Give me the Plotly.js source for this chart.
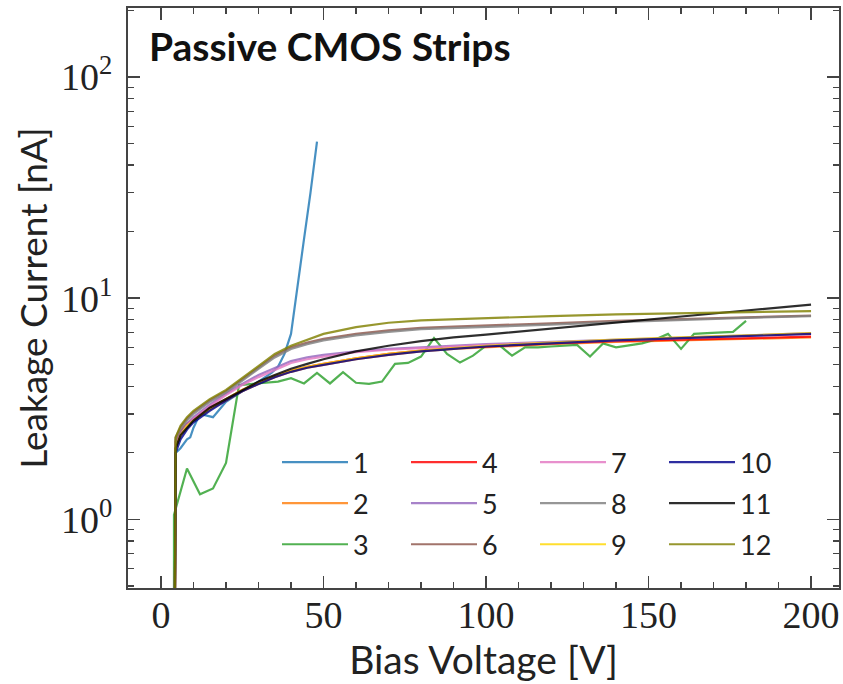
<!DOCTYPE html>
<html><head><meta charset="utf-8">
<script src="https://cdn.plot.ly/plotly-3.0.1.min.js"></script>
<style>body{margin:0;background:#fff}#chart{width:843px;height:684px}</style>
</head><body><div id="chart"></div><script>
// Shared bias-voltage grid for the smooth strips
const xCommon = [4, 4.5, 6, 8, 10, 15, 20, 25, 30, 35, 40, 45, 50, 60, 70, 80, 90, 100, 120, 140, 160, 180, 200];

// Strip 1 (breakdown before 50 V)
const x1 = [4, 4.5, 6, 8, 9, 10, 12, 14, 16, 20, 25, 30, 34, 36, 38, 40, 42, 44, 46, 48];
const y1 = [0.05, 2.0, 2.1, 2.3, 2.35, 2.6, 3.0, 2.95, 2.9, 3.4, 3.8, 4.2, 4.6, 4.9, 5.6, 6.9, 11, 18.5, 30, 51];

// Strip 3 (noisy, stops at 180 V)
const x3 = [4, 4, 8, 12, 16, 20, 24, 28, 32, 36, 40, 44, 48, 52, 56, 60, 64, 68, 72, 76, 80, 84, 88, 92, 96, 100, 104, 108, 112, 116, 120, 124, 128, 132, 136, 140, 144, 148, 152, 156, 160, 164, 168, 172, 176, 180];
const y3 = [0.05, 1.05, 1.7, 1.3, 1.38, 1.8, 4.05, 4.1, 4.15, 4.2, 4.35, 4.12, 4.6, 4.12, 4.63, 4.15, 4.1, 4.2, 5.05, 5.1, 5.45, 6.6, 5.6, 5.12, 5.5, 6.1, 6.15, 5.5, 6.0, 6.0, 6.05, 6.1, 6.15, 5.45, 6.25, 6.0, 6.1, 6.25, 6.5, 6.9, 5.9, 6.9, 6.95, 7.0, 7.05, 7.9];

const y2  = [0.05, 2.1, 2.4, 2.65, 2.8, 3.15, 3.45, 3.8, 4.1, 4.4, 4.65, 4.85, 5.0, 5.3, 5.55, 5.75, 5.9, 6.0, 6.2, 6.35, 6.45, 6.55, 6.65];
const y4  = [0.05, 2.25, 2.5, 2.7, 2.85, 3.2, 3.5, 3.85, 4.15, 4.45, 4.7, 4.9, 5.05, 5.35, 5.6, 5.8, 5.95, 6.05, 6.25, 6.4, 6.5, 6.6, 6.7];
const y5  = [0.05, 2.15, 2.45, 2.7, 2.9, 3.3, 3.7, 4.1, 4.5, 4.85, 5.2, 5.4, 5.55, 5.75, 5.9, 6.0, 6.1, 6.2, 6.35, 6.5, 6.65, 6.8, 6.95];
const y6  = [0.05, 2.35, 2.6, 2.85, 3.05, 3.45, 3.8, 4.3, 4.85, 5.5, 6.0, 6.3, 6.55, 6.9, 7.15, 7.35, 7.45, 7.55, 7.7, 7.9, 8.05, 8.2, 8.35];
const y7  = [0.05, 2.15, 2.4, 2.65, 2.85, 3.25, 3.65, 4.05, 4.4, 4.75, 5.1, 5.3, 5.45, 5.7, 5.85, 5.95, 6.05, 6.15, 6.3, 6.45, 6.6, 6.75, 6.9];
const y8  = [0.05, 2.3, 2.55, 2.8, 3.0, 3.4, 3.75, 4.25, 4.8, 5.4, 5.9, 6.2, 6.45, 6.8, 7.05, 7.25, 7.35, 7.45, 7.6, 7.8, 8.0, 8.15, 8.3];
const y9  = [0.05, 2.1, 2.4, 2.65, 2.8, 3.15, 3.5, 3.85, 4.15, 4.45, 4.7, 4.9, 5.05, 5.35, 5.6, 5.8, 5.95, 6.1, 6.3, 6.5, 6.65, 6.8, 6.95];
const y10 = [0.05, 2.0, 2.3, 2.55, 2.75, 3.1, 3.45, 3.8, 4.1, 4.4, 4.65, 4.85, 5.0, 5.3, 5.55, 5.75, 5.9, 6.05, 6.25, 6.45, 6.6, 6.75, 6.9];
const y11 = [0.05, 2.1, 2.4, 2.6, 2.8, 3.2, 3.5, 3.85, 4.2, 4.5, 4.8, 5.05, 5.3, 5.75, 6.1, 6.4, 6.65, 6.85, 7.3, 7.8, 8.3, 8.8, 9.35];
const y12 = [0.05, 2.35, 2.65, 2.9, 3.1, 3.5, 3.85, 4.35, 4.95, 5.6, 6.1, 6.5, 6.9, 7.4, 7.75, 7.95, 8.05, 8.15, 8.3, 8.45, 8.55, 8.65, 8.75];

const names = ['1','2','3','4','5','6','7','8','9','10','11','12'];
const colors = ['#1f77b4','#ff7f0e','#2ca02c','#ff0000','#9467bd','#8c564b','#e377c2','#7f7f7f','#ffd700','#00008b','#000000','#808000'];

const xs = [x1, xCommon, x3, xCommon, xCommon, xCommon, xCommon, xCommon, xCommon, xCommon, xCommon, xCommon];
const ys = [y1, y2, y3, y4, y5, y6, y7, y8, y9, y10, y11, y12];

const legendIds = ['legend','legend2','legend3','legend4'];
const traces = names.map((n, i) => ({
  type: 'scatter', mode: 'lines', x: xs[i], y: ys[i], name: n,
  line: {color: colors[i], width: 2.2}, opacity: 0.82,
  legend: legendIds[Math.floor(i / 3)], legendgroup: 'g' + n
}));

const L = 128, R = 4, T = 8, B = 96;
const W = 843 - L - R, H = 684 - T - B;
const px2x = p => (p - L) / W;
const py2y = p => (684 - B - p) / H;

const legendFont = {family: 'Lato, "Noto Sans", sans-serif', size: 27, color: '#222'};
function mkLegend(col) {
  return {
    x: px2x(277 + col * 129), y: py2y(438), xanchor: 'left', yanchor: 'top',
    bgcolor: 'rgba(0,0,0,0)', borderwidth: 0, font: legendFont,
    tracegroupgap: 3, itemwidth: 66, orientation: 'v'
  };
}

const axisLine = '#444';
const titleFont = {family: 'Lato, "Noto Sans", sans-serif', size: 39, color: '#222'};
const layout = {
  width: 843, height: 684,
  margin: {l: L, r: R, t: T, b: B, pad: 0},
  paper_bgcolor: '#fff', plot_bgcolor: '#fff',
  showlegend: true,
  legend: mkLegend(0), legend2: mkLegend(1), legend3: mkLegend(2), legend4: mkLegend(3),
  xaxis: {
    range: [-10.15, 208.6], tick0: 0, dtick: 50,
    ticks: 'inside', ticklen: 12, tickwidth: 1.5, tickcolor: axisLine,
    minor: {dtick: 10, ticks: 'inside', ticklen: 6, tickwidth: 1.2, tickcolor: axisLine},
    showline: true, linecolor: axisLine, linewidth: 2, mirror: 'allticks',
    showgrid: false, zeroline: false,
    tickfont: {family: '"Liberation Serif", serif', size: 38, color: '#222'},
    ticklabelstandoff: -8,
    title: {text: 'Bias Voltage [V]', font: titleFont, standoff: 8}
  },
  yaxis: {
    type: 'log', range: [Math.log10(0.49), 2.312],
    tickvals: [1, 10, 100], ticktext: ['10<sup>0</sup>', '10<sup>1</sup>', '10<sup>2</sup>'],
    ticks: 'inside', ticklen: 12, tickwidth: 1.5, tickcolor: axisLine,
    minor: {tickvals: [0.5, 0.6, 0.7, 0.8, 0.9, 2, 3, 4, 5, 6, 7, 8, 9, 20, 30, 40, 50, 60, 70, 80, 90, 200],
            ticks: 'inside', ticklen: 6, tickwidth: 1.2, tickcolor: axisLine},
    showline: true, linecolor: axisLine, linewidth: 2, mirror: 'allticks',
    showgrid: false, zeroline: false,
    tickfont: {family: '"Liberation Serif", serif', size: 38, color: '#222'},
    ticklabelstandoff: 6,
    title: {text: 'Leakage Current [nA]', font: {family: 'Lato, "Noto Sans", sans-serif', size: 37, color: '#222'}, standoff: 2}
  },
  annotations: [{
    text: '<b>Passive CMOS Strips</b>', xref: 'paper', yref: 'paper',
    x: px2x(147), y: py2y(46), xanchor: 'left', yanchor: 'middle', showarrow: false,
    font: {family: 'Lato, "Noto Sans", sans-serif', size: 39, color: '#111'}
  }]
};

Plotly.newPlot('chart', traces, layout, {displayModeBar: false, staticPlot: true});
</script></body></html>
